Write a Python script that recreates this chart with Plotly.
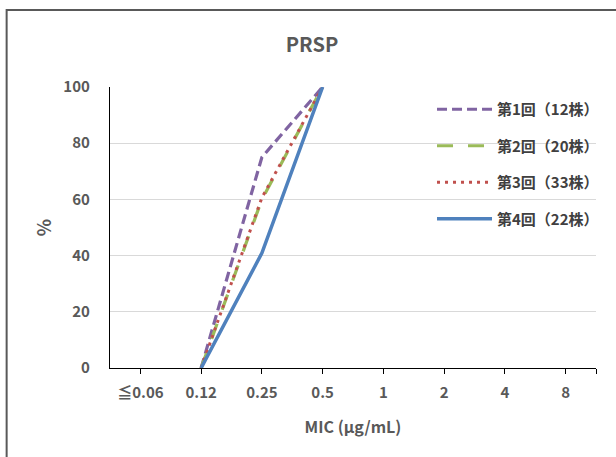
import plotly.graph_objects as go

categories = ["≦0.06", "0.12", "0.25", "0.5", "1", "2", "4", "8"]
series_names = ["第1回（12株）", "第2回（20株）", "第3回（33株）", "第4回（22株）"]
s1 = [None, 0, 75.0, 100, None, None, None, None]
s2 = [None, 0, 60.0, 100, None, None, None, None]
s3 = [None, 0, 60.6, 100, None, None, None, None]
s4 = [None, 0, 40.9, 100, None, None, None, None]
colors = ["#8064A2", "#9BBB59", "#C0504D", "#4F81BD"]
dashes = ["10px,5px", "16px,15px", "3px,5px", "solid"]
widths = [3.2, 3.2, 3.0, 3.5]
yticks = [0, 20, 40, 60, 80, 100]

FONT = "Noto Sans CJK JP, Open Sans, sans-serif"
GRAY = "#595959"

fig = go.Figure()
xs = list(range(len(categories)))
for i, (name, vals) in enumerate(zip(series_names, [s1, s2, s3, s4])):
    fig.add_trace(go.Scatter(
        x=xs, y=vals, name=name, mode="lines",
        line=dict(color=colors[i], width=widths[i], dash=dashes[i]),
        connectgaps=False, legendgroup=f"g{i}",
    ))

fig.update_layout(
    width=616, height=457,
    margin=dict(l=110, r=17, t=87, b=89),
    paper_bgcolor="white", plot_bgcolor="white",
    font=dict(family=FONT, color=GRAY, size=14),
    title=dict(text="<b>PRSP</b>", x=(312) / 616, xanchor="center",
               y=1 - 45 / 457, yanchor="middle",
               font=dict(size=20, color=GRAY, family=FONT)),
    showlegend=True,
    legend=dict(x=(434 - 110) / 489, y=(368 - 93) / 281, xanchor="left", yanchor="top",
                bgcolor="rgba(0,0,0,0)", itemwidth=55, traceorder="grouped",
                tracegroupgap=14,
                font=dict(size=15, color="#404040", family=FONT, weight="bold")),
)

fig.update_xaxes(
    range=[-0.5, 7.5], tickmode="array", tickvals=xs,
    ticktext=[f"<b>{c}</b>" for c in categories],
    ticks="outside", ticklen=5, tickcolor="black", tickwidth=1,
    showline=True, linecolor="black", linewidth=1.2,
    showgrid=False, zeroline=False,
    tickfont=dict(size=15, color=GRAY, family=FONT),
    ticklabelstandoff=6,
    title=dict(text="<b>MIC (μg/mL)</b>", font=dict(size=16, color=GRAY, family=FONT), standoff=20),
    minor=dict(tickmode="array", tickvals=[7.5], ticks="outside", ticklen=5,
               tickcolor="black", showgrid=False),
    fixedrange=True,
)
fig.update_yaxes(
    range=[0, 100], tickmode="array", tickvals=yticks,
    ticktext=[f"<b>{v}</b>" for v in yticks],
    showline=True, linecolor="black", linewidth=1.2,
    showgrid=True, gridcolor="#D9D9D9", gridwidth=1.2,
    zeroline=False, ticks="",
    tickfont=dict(size=15, color=GRAY, family=FONT),
    ticklabelstandoff=16,
    title=dict(text="<b>%</b>", font=dict(size=18, color=GRAY, family=FONT), standoff=7),
    fixedrange=True,
)

# outer chart border
fig.add_shape(type="rect", xref="paper", yref="paper",
              x0=(6 - 110) / 489, x1=1.2, y0=-0.6, y1=(368 - 10) / 281,
              line=dict(color="#595959", width=2), fillcolor="rgba(0,0,0,0)", layer="below")

fig.write_html("out.html", config={"displayModeBar": False},
               post_script="document.body.style.margin='0';document.body.style.overflow='hidden';")
